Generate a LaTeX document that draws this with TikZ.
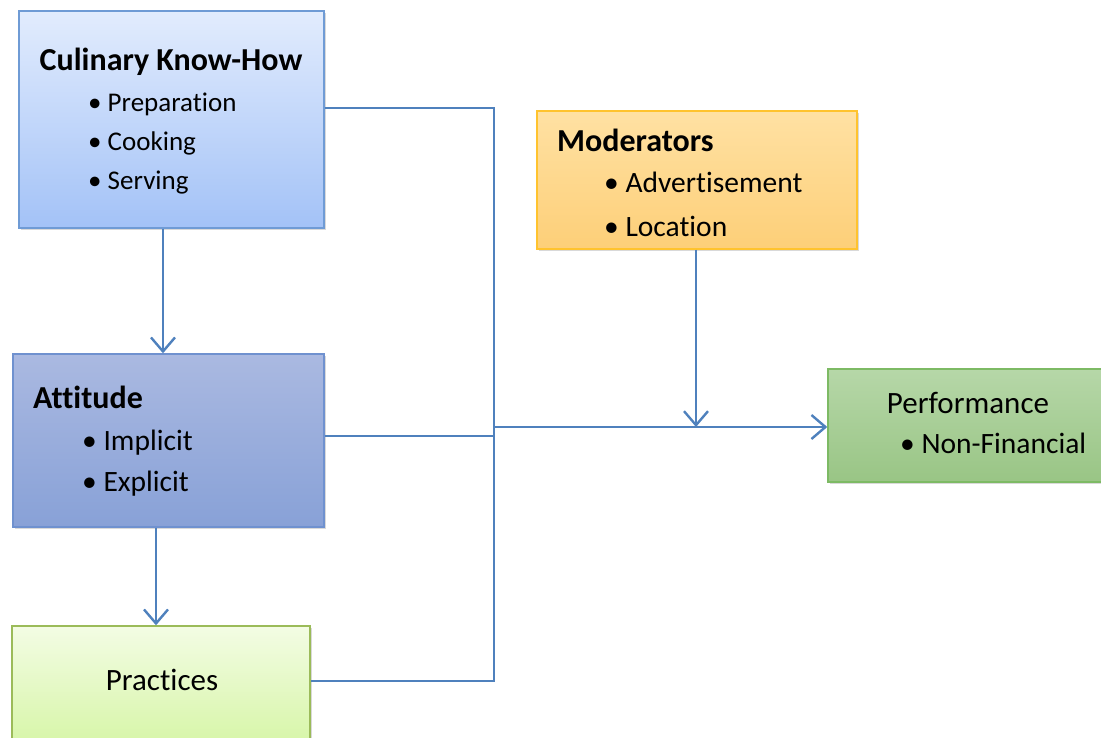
\documentclass[tikz,border=0pt]{standalone}
\usepackage{fontspec}
\setmainfont{Carlito}[RawFeature={-liga;-clig;-dlig}]
\usetikzlibrary{arrows.meta,shadows}
\definecolor{linkblue}{HTML}{4F81BD}
\definecolor{ckhtop}{HTML}{E2ECFD}
\definecolor{ckhbot}{HTML}{A3C2F7}
\definecolor{ckhline}{HTML}{6F9BD5}
\definecolor{atttop}{HTML}{AAB9E1}
\definecolor{attbot}{HTML}{88A1D7}
\definecolor{attline}{HTML}{6F91CF}
\definecolor{prtop}{HTML}{F3FCE4}
\definecolor{prbot}{HTML}{D4F5A2}
\definecolor{prline}{HTML}{9BBB59}
\definecolor{modtop}{HTML}{FFE1A3}
\definecolor{modbot}{HTML}{FDCF78}
\definecolor{modline}{HTML}{FFC32E}
\definecolor{perftop}{HTML}{B6D7A8}
\definecolor{perfbot}{HTML}{99C585}
\definecolor{perfline}{HTML}{7DBA64}
\begin{document}
\begin{tikzpicture}[x=1pt,y=-1pt,
  box/.style={draw, line width=1.4pt, inner sep=0pt, drop shadow={shadow xshift=2pt, shadow yshift=-2pt, opacity=0.3}},
  conn/.style={draw=linkblue, line width=2.4pt},
  arr/.style={conn, -{Straight Barb[length=14pt,width=24pt,line width=2.4pt]}},
  ttl/.style={font=\fontsize{32}{36}\selectfont\bfseries, inner sep=0pt},
  itm/.style={font=\fontsize{29.5}{34}\selectfont, inner sep=0pt},
  ]
\useasboundingbox (0,0) rectangle (1101,738);
\clip (0,0) rectangle (1101,738);
% boxes
\node[box, draw=ckhline, top color=ckhtop, bottom color=ckhbot, minimum width=305pt, minimum height=217pt] (ckh) at (171.5,119.5) {};
\node[box, draw=attline, top color=atttop, bottom color=attbot, minimum width=311pt, minimum height=173pt] (att) at (168.5,440.5) {};
\node[box, draw=prline, top color=prtop, bottom color=prbot, minimum width=298pt, minimum height=130pt] (pra) at (161,691) {};
\node[box, draw=modline, top color=modtop, bottom color=modbot, minimum width=320pt, minimum height=138pt] (mod) at (697,180) {};
\node[box, draw=perfline, top color=perftop, bottom color=perfbot, minimum width=290pt, minimum height=113pt] (perf) at (973,425.5) {};
% texts
\node[ttl, anchor=base] (ckht) at (171,71) {Culinary Know-How};
\node[itm, anchor=base west, font=\fontsize{27}{32}\selectfont] (ckh1) at (88,112) {• Preparation};
\node[itm, anchor=base west, font=\fontsize{27}{32}\selectfont] (ckh2) at (88,151) {• Cooking};
\node[itm, anchor=base west, font=\fontsize{27}{32}\selectfont] (ckh3) at (88,190) {• Serving};
\node[ttl, anchor=base west] (attt) at (33,408) {Attitude};
\node[itm, anchor=base west] (att1) at (82,450) {• Implicit};
\node[itm, anchor=base west] (att2) at (82,491) {• Explicit};
\node[itm, anchor=base, font=\fontsize{31}{36}\selectfont] (prat) at (162,690) {Practices};
\node[ttl, anchor=base west] (modt) at (557,152) {Moderators};
\node[itm, anchor=base west] (mod1) at (604,193) {• Advertisement};
\node[itm, anchor=base west] (mod2) at (604,237) {• Location};
\node[itm, anchor=base, font=\fontsize{31}{36}\selectfont] (perft) at (968,413) {Performance};
\node[itm, anchor=base west] (perf1) at (900,453) {• Non-Financial};
% connectors
\coordinate (jt) at (494,108);
\coordinate (jb) at (494,681);
\coordinate (jm) at (494,427);
\coordinate (jmod) at (696,427);
\draw[conn] (ckh.east |- jt) -- (jt) -- (jb) -- (pra.east |- jb);
\draw[conn] (att.east |- 0,436) -- (494,436);
\draw[arr] (jm) -- (perf.west |- jm);
\draw[arr] (mod.south -| jmod) -- (jmod);
\draw[arr] (ckh.south -| 163,0) -- (att.north -| 163,0);
\draw[arr] (att.south -| 156,0) -- (pra.north -| 156,0);
\end{tikzpicture}
\end{document}
